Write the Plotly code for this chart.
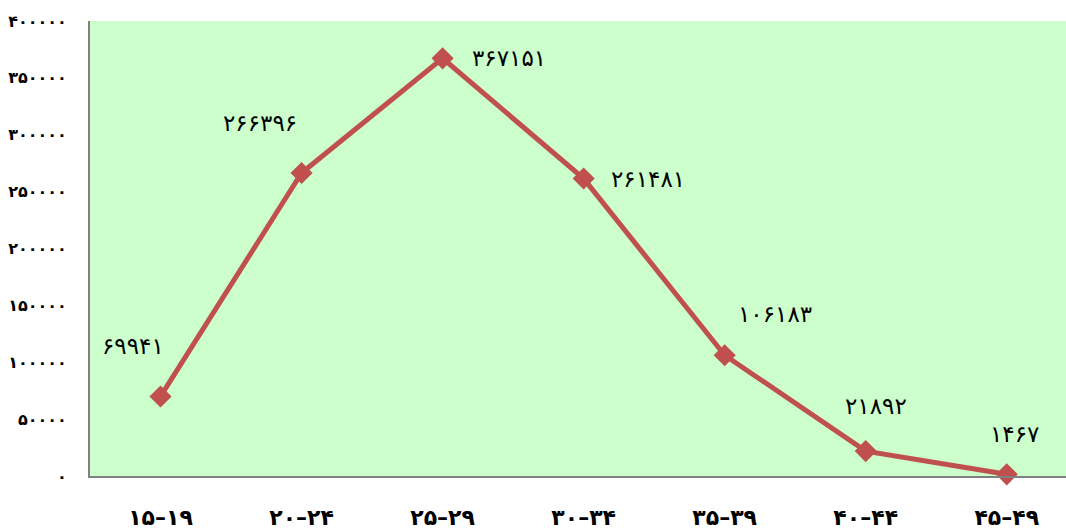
import plotly.graph_objects as go

categories = ["۱۵–۱۹", "۲۰–۲۴", "۲۵–۲۹", "۳۰–۳۴", "۳۵–۳۹", "۴۰–۴۴", "۴۵–۴۹"]
values = [69941, 266396, 367151, 261481, 106183, 21892, 1467]
value_labels = ["۶۹۹۴۱", "۲۶۶۳۹۶", "۳۶۷۱۵۱", "۲۶۱۴۸۱", "۱۰۶۱۸۳", "۲۱۸۹۲", "۱۴۶۷"]
y_tick_vals = [0, 50000, 100000, 150000, 200000, 250000, 300000, 350000, 400000]
y_tick_text = ["۰", "۵۰۰۰۰", "۱۰۰۰۰۰", "۱۵۰۰۰۰", "۲۰۰۰۰۰", "۲۵۰۰۰۰", "۳۰۰۰۰۰", "۳۵۰۰۰۰", "۴۰۰۰۰۰"]

# label offsets (pixels) relative to each point
label_dx = [-28, -42, 66, 64, 50, 10, 8]
label_dy = [50, 50, 0, 0, 41, 45, 40]

x_idx = list(range(len(categories)))

fig = go.Figure()
fig.add_trace(go.Scatter(
    x=x_idx, y=values, mode="lines+markers",
    line=dict(color="#C0504D", width=5),
    marker=dict(symbol="diamond", size=17, color="#C0504D"),
    hoverinfo="skip", showlegend=False, cliponaxis=False,
))

for i, (v, t) in enumerate(zip(values, value_labels)):
    fig.add_annotation(
        x=i, y=v, text=t, showarrow=False,
        xshift=label_dx[i], yshift=label_dy[i],
        font=dict(family="DejaVu Sans", size=23, color="black"),
    )

fig.update_layout(
    width=1066, height=530,
    margin=dict(l=90, r=0, t=21, b=54, autoexpand=False),
    paper_bgcolor="white", plot_bgcolor="#CCFFCC",
    font=dict(family="DejaVu Sans", color="black"),
)
fig.update_xaxes(
    range=[-0.5, 6.42], tickmode="array", tickvals=x_idx, ticktext=categories,
    showgrid=False, zeroline=False, showline=True, linecolor="#808080", linewidth=2,
    ticks="", tickfont=dict(family="DejaVu Sans", size=22, weight="bold"),
    ticklabelstandoff=21, automargin=False,
)
fig.update_yaxes(
    range=[0, 400000], tickmode="array", tickvals=y_tick_vals, ticktext=y_tick_text,
    showgrid=False, zeroline=False, showline=True, linecolor="#808080", linewidth=2,
    ticks="", tickfont=dict(family="DejaVu Sans", size=16, weight="bold"),
    ticklabelstandoff=18, automargin=False,
)

fig.write_html(
    "out.html",
    config={"displayModeBar": False},
    post_script="document.body.style.margin='0';document.body.style.overflow='hidden';",
)
